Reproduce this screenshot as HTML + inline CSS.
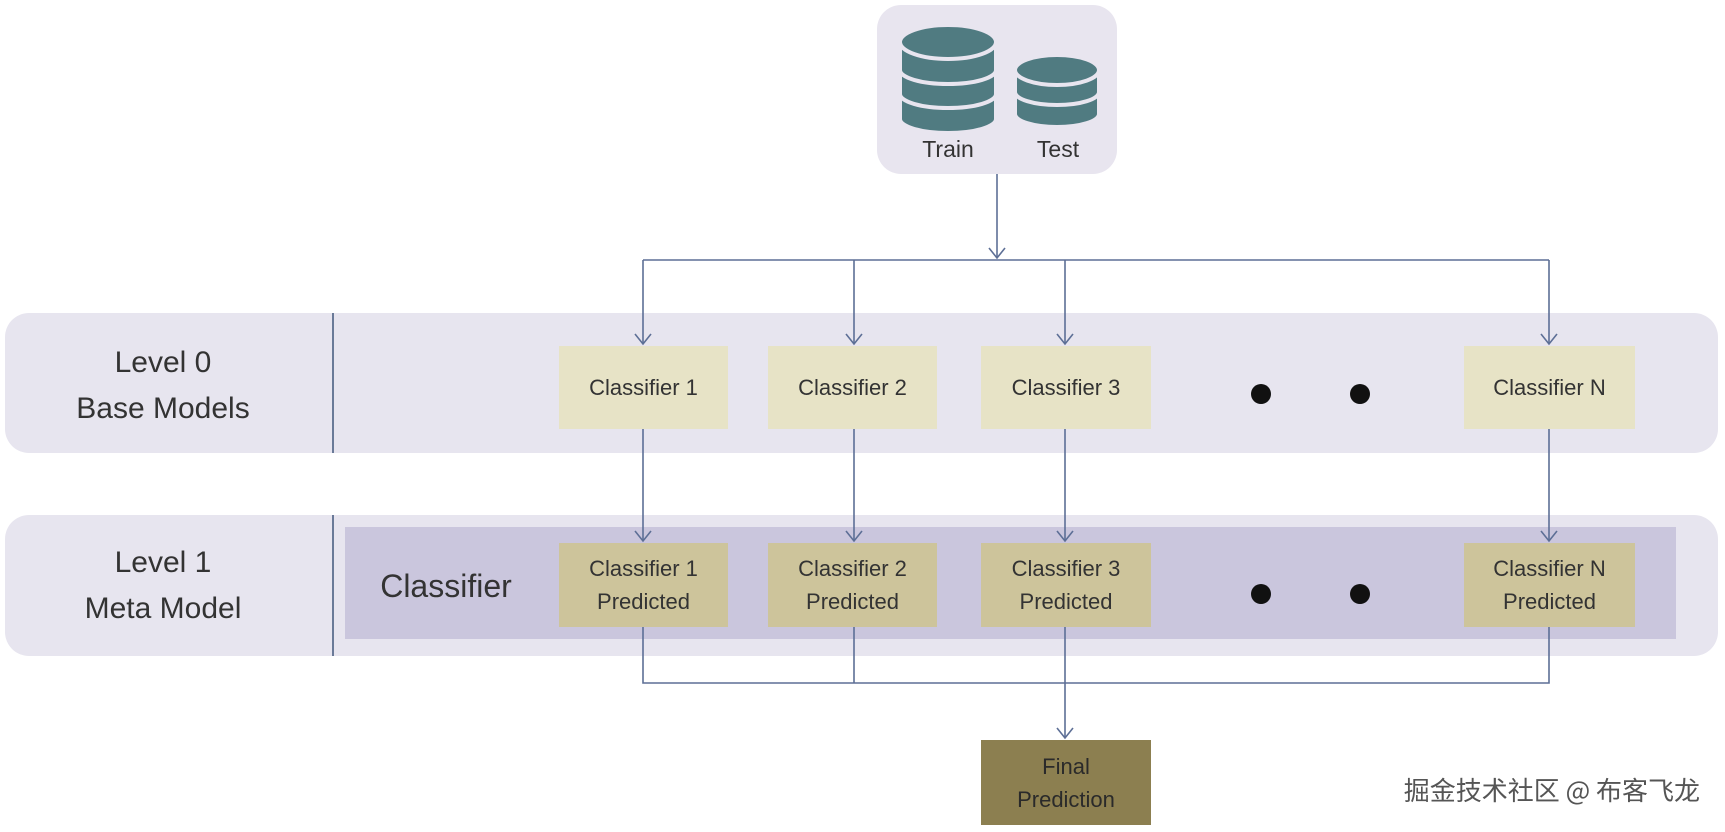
<!DOCTYPE html>
<html><head><meta charset="utf-8"><style>
html,body{margin:0;padding:0;background:#fff;}
body{width:1725px;height:832px;position:relative;overflow:hidden;font-family:"Liberation Sans","Noto Sans CJK SC",sans-serif;}
.a{position:absolute;}
.box{position:absolute;display:flex;align-items:center;justify-content:center;text-align:center;color:#333;font-size:22px;line-height:33px;}
.b0{background:#e7e3c6;}
.b1{background:#cdc49b;}
.lbl{position:absolute;text-align:center;color:#333;font-size:30px;line-height:46px;}
</style></head><body>
<div class="a" style="left:877px;top:5px;width:240px;height:169px;background:#e8e5ef;border-radius:24px;"></div>
<div class="a" style="left:5px;top:313px;width:1713px;height:140px;background:#e7e5ef;border-radius:24px;"></div>
<div class="a" style="left:5px;top:515px;width:1713px;height:141px;background:#e7e5ef;border-radius:24px;"></div>
<div class="a" style="left:332px;top:313px;width:2px;height:140px;background:#6a7a98;"></div>
<div class="a" style="left:332px;top:515px;width:2px;height:141px;background:#6a7a98;"></div>
<div class="a" style="left:345px;top:527px;width:1331px;height:112px;background:#cac6dd;"></div>

<svg class="a" style="left:0;top:0" width="1725" height="832">
<g fill="#507b81" stroke="#e8e5ef" stroke-width="4">
<path d="M900 95 v24 a48 14 0 0 0 96 0 v-24 z"/>
<path d="M900 70 v24 a48 14 0 0 0 96 0 v-24 z"/>
<path d="M900 46 v24 a48 14 0 0 0 96 0 v-24 z"/>
<ellipse cx="948" cy="42" rx="48" ry="17"/>
<path d="M1015 92 v22 a42 13 0 0 0 84 0 v-22 z"/>
<path d="M1015 72 v20 a42 13 0 0 0 84 0 v-20 z"/>
<ellipse cx="1057" cy="70" rx="42" ry="15"/>
</g>
<g stroke="#5d6f96" stroke-width="1.6" fill="none">
<path d="M997 174 V258"/>
<path d="M643 260 H1549"/>
<path d="M643 260 V344 M854 260 V344 M1065 260 V344 M1549 260 V344"/>
<path d="M643 429 V541 M854 429 V541 M1065 429 V541 M1549 429 V541"/>
<path d="M643 627 V683 H1549 V627 M854 627 V683 M1065 627 V738"/>
<path d="M989 248 L997 258 L1005 248"/>
<path d="M635 334 L643 344 L651 334 M846 334 L854 344 L862 334 M1057 334 L1065 344 L1073 334 M1541 334 L1549 344 L1557 334"/>
<path d="M635 531 L643 541 L651 531 M846 531 L854 541 L862 531 M1057 531 L1065 541 L1073 531 M1541 531 L1549 541 L1557 531"/>
<path d="M1057 728 L1065 738 L1073 728"/>
</g>
<g fill="#111"><circle cx="1261" cy="394" r="10"/><circle cx="1360" cy="394" r="10"/><circle cx="1261" cy="594" r="10"/><circle cx="1360" cy="594" r="10"/></g>
<text x="948" y="157" font-family="Liberation Sans" font-size="23" fill="#333" text-anchor="middle">Train</text>
<text x="1058" y="157" font-family="Liberation Sans" font-size="23" fill="#333" text-anchor="middle">Test</text>
<text x="1700" y="800" font-family="Noto Sans CJK SC, sans-serif" font-size="26" fill="#555" text-anchor="end">掘金技术社区 @ 布客飞龙</text>
</svg>

<div class="lbl" style="left:20px;top:340px;width:286px;">Level 0<br>Base Models</div>
<div class="lbl" style="left:20px;top:540px;width:286px;">Level 1<br>Meta Model</div>
<div class="lbl" style="left:360px;top:563px;width:172px;font-size:32px;">Classifier</div>

<div class="box b0" style="left:559px;top:346px;width:169px;height:83px;">Classifier 1</div>
<div class="box b0" style="left:768px;top:346px;width:169px;height:83px;">Classifier 2</div>
<div class="box b0" style="left:981px;top:346px;width:170px;height:83px;">Classifier 3</div>
<div class="box b0" style="left:1464px;top:346px;width:171px;height:83px;">Classifier N</div>

<div class="box b1" style="left:559px;top:543px;width:169px;height:84px;">Classifier 1<br>Predicted</div>
<div class="box b1" style="left:768px;top:543px;width:169px;height:84px;">Classifier 2<br>Predicted</div>
<div class="box b1" style="left:981px;top:543px;width:170px;height:84px;">Classifier 3<br>Predicted</div>
<div class="box b1" style="left:1464px;top:543px;width:171px;height:84px;">Classifier N<br>Predicted</div>

<div class="box" style="left:981px;top:740px;width:170px;height:85px;background:#8c7f50;color:#2a2a2a;">Final<br>Prediction</div>
</body></html>
